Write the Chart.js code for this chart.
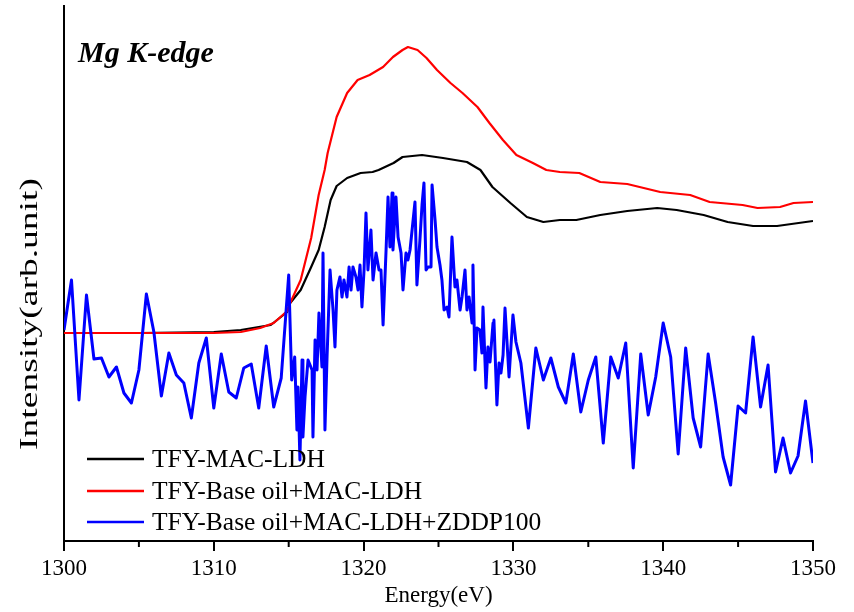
<!DOCTYPE html>
<html>
<head>
<meta charset="utf-8">
<script src="https://cdn.jsdelivr.net/npm/chart.js@4.4.1/dist/chart.umd.min.js"></script>
<style>
  html, body { margin: 0; padding: 0; background: #fff; }
  #wrap { width: 854px; height: 612px; }
</style>
</head>
<body>
<div id="wrap"><canvas id="xasChart" width="854" height="612"></canvas></div>
<script>
// Mg K-edge TFY spectra (intensity in arbitrary units)
var panelLabel = 'Mg K-edge';
var xTitle = 'Energy(eV)';
var yTitle = 'Intensity(arb.unit)';
var xTicks = [1300, 1310, 1320, 1330, 1340, 1350];
var xMinorTicks = [1305, 1315, 1325, 1335, 1345];
var seriesNames = ['TFY-MAC-LDH', 'TFY-Base oil+MAC-LDH', 'TFY-Base oil+MAC-LDH+ZDDP100'];
var seriesColors = ['#000000', '#ff0000', '#0000ff'];

// TFY-MAC-LDH
var blackE = [1300, 1305, 1310, 1311.8, 1313.8, 1314.9, 1315.1, 1315.8, 1316.5, 1317.0,
              1317.4, 1317.8, 1318.2, 1318.9, 1319.8, 1320.6, 1321.0, 1322.0, 1322.6, 1323.9,
              1325.3, 1326.9, 1327.8, 1328.6, 1329.8, 1330.9, 1332.0, 1333.1, 1334.2, 1335.8,
              1337.6, 1339.6, 1340.9, 1342.7, 1344.3, 1346.0, 1347.6, 1350];
var blackI = [2.08, 2.08, 2.09, 2.11, 2.16, 2.29, 2.38, 2.51, 2.74, 2.91,
              3.14, 3.41, 3.55, 3.63, 3.68, 3.69, 3.71, 3.78, 3.84, 3.86,
              3.83, 3.79, 3.71, 3.54, 3.38, 3.24, 3.19, 3.21, 3.21, 3.26,
              3.30, 3.33, 3.31, 3.26, 3.19, 3.15, 3.15, 3.20];

// TFY-Base oil+MAC-LDH
var redE = [1300, 1305, 1310, 1311.8, 1313.1, 1314.0, 1314.9, 1315.1, 1315.8, 1316.5,
            1317.0, 1317.4, 1317.6, 1318.2, 1318.9, 1319.6, 1320.4, 1321.3, 1321.96, 1322.6,
            1322.96, 1323.6, 1324.2, 1324.9, 1325.8, 1326.6, 1327.6, 1328.4, 1329.3, 1330.2,
            1331.3, 1332.2, 1333.1, 1334.4, 1335.8, 1337.6, 1339.8, 1341.8, 1343.1, 1345.3,
            1346.3, 1347.8, 1348.7, 1350];
var redI = [2.08, 2.08, 2.08, 2.09, 2.13, 2.18, 2.30, 2.38, 2.61, 3.03,
            3.46, 3.71, 3.88, 4.24, 4.48, 4.61, 4.66, 4.74, 4.84, 4.91,
            4.94, 4.91, 4.83, 4.71, 4.58, 4.48, 4.34, 4.18, 4.01, 3.86,
            3.78, 3.71, 3.69, 3.68, 3.59, 3.57, 3.49, 3.46, 3.39, 3.36,
            3.33, 3.34, 3.38, 3.39];

// TFY-Base oil+MAC-LDH+ZDDP100, pre-edge part
var bluePreE = [1300, 1300.5, 1301, 1301.5, 1302, 1302.5, 1303, 1303.5, 1304, 1304.5,
                1305, 1305.5, 1306, 1306.5, 1307, 1307.5, 1308, 1308.5, 1309, 1309.5,
                1310, 1310.5, 1311, 1311.5, 1312, 1312.5, 1313, 1313.5, 1314, 1314.5,
                1315];
var bluePreI = [2.11, 2.61, 1.41, 2.46, 1.82, 1.83, 1.64, 1.74, 1.48, 1.38,
                1.71, 2.47, 2.09, 1.45, 1.88, 1.66, 1.58, 1.23, 1.78, 2.03,
                1.33, 1.87, 1.49, 1.43, 1.73, 1.77, 1.33, 1.95, 1.34, 1.63,
                2.66];
// edge region (denser sampling)
var blueEdgeE = [1315.2, 1315.4, 1315.55, 1315.62, 1315.75, 1315.89, 1315.95, 1316.09, 1316.29, 1316.56,
                 1316.62, 1316.76, 1316.89, 1317.02, 1317.22, 1317.29, 1317.42, 1317.56, 1317.76, 1317.96,
                 1318.09, 1318.22, 1318.42, 1318.56, 1318.69, 1318.89, 1319.03, 1319.16, 1319.29, 1319.49,
                 1319.63, 1319.76, 1319.89, 1320.03, 1320.16, 1320.29, 1320.49, 1320.63, 1320.83, 1321.03,
                 1321.16, 1321.3, 1321.5, 1321.63, 1321.76, 1321.9, 1321.96, 1322.16, 1322.3, 1322.5,
                 1322.63, 1322.83, 1322.96, 1323.1, 1323.43, 1323.56, 1323.76, 1323.9, 1324.03, 1324.17,
                 1324.3, 1324.5, 1324.57, 1324.77, 1324.9, 1325.1, 1325.23, 1325.37, 1325.57, 1325.7,
                 1325.9, 1326.1, 1326.23, 1326.44, 1326.57, 1326.77, 1326.9, 1327.04, 1327.24, 1327.3,
                 1327.44, 1327.57, 1327.77, 1327.9, 1327.97, 1328.17, 1328.3, 1328.44, 1328.64, 1328.7,
                 1328.9, 1329.04, 1329.17, 1329.31, 1329.44, 1329.71, 1329.97, 1330.17];
var blueEdgeI = [1.61, 1.84, 1.11, 1.54, 0.81, 1.81, 1.04, 1.44, 1.81, 1.71,
                 1.04, 2.01, 1.71, 2.28, 1.74, 2.88, 1.11, 1.84, 2.71, 2.31,
                 1.94, 2.51, 2.64, 2.44, 2.61, 2.44, 2.74, 2.51, 2.74, 2.64,
                 2.51, 2.76, 2.34, 2.71, 3.28, 2.71, 3.11, 2.61, 2.88, 2.71,
                 2.71, 2.16, 2.91, 3.44, 2.94, 3.48, 2.91, 3.44, 3.04, 2.88,
                 2.51, 2.88, 2.81, 2.91, 3.39, 2.56, 3.01, 3.36, 3.58, 2.71,
                 2.74, 2.74, 3.56, 3.21, 2.94, 2.76, 2.61, 2.31, 2.34, 2.24,
                 3.04, 2.54, 2.61, 2.31, 2.44, 2.71, 2.31, 2.44, 2.18, 2.76,
                 1.71, 2.13, 2.11, 1.88, 2.34, 1.53, 1.94, 1.79, 2.18, 2.21,
                 1.36, 1.78, 1.68, 1.86, 2.33, 1.64, 2.26, 1.99];
// post-edge part
var bluePostE = [1330.5, 1331, 1331.5, 1332, 1332.5, 1333, 1333.5, 1334, 1334.5, 1335,
                 1335.5, 1336, 1336.5, 1337, 1337.5, 1338, 1338.5, 1339, 1339.5, 1340,
                 1340.5, 1341, 1341.5, 1342, 1342.5, 1343, 1343.5, 1344, 1344.5, 1345,
                 1345.5, 1346, 1346.5, 1347, 1347.5, 1348, 1348.5, 1349, 1349.5, 1350];
var bluePostI = [1.78, 1.13, 1.93, 1.61, 1.83, 1.54, 1.38, 1.87, 1.29, 1.61,
                 1.84, 0.98, 1.84, 1.63, 1.98, 0.73, 1.87, 1.26, 1.64, 2.18,
                 1.84, 0.87, 1.93, 1.23, 0.94, 1.87, 1.38, 0.84, 0.56, 1.35,
                 1.28, 2.04, 1.34, 1.76, 0.69, 1.03, 0.68, 0.85, 1.40, 0.78];

function toPoints(es, is) {
  var pts = [];
  for (var i = 0; i < es.length; i++) pts.push({ x: es[i], y: is[i] });
  return pts;
}

var blueE = bluePreE.concat(blueEdgeE, bluePostE);
var blueI = bluePreI.concat(blueEdgeI, bluePostI);

var serifFont = '"Liberation Serif", "Times New Roman", serif';

// draws minor ticks, panel label, y title and the in-plot legend
var overlayPlugin = {
  id: 'overlay',
  afterDraw: function(chart) {
    var ctx = chart.ctx;
    var xs = chart.scales.x;
    var area = chart.chartArea;
    ctx.save();
    ctx.strokeStyle = '#000';
    ctx.lineWidth = 2;
    xMinorTicks.forEach(function(v) {
      var px = xs.getPixelForValue(v);
      ctx.beginPath();
      ctx.moveTo(px, area.bottom);
      ctx.lineTo(px, area.bottom + 6);
      ctx.stroke();
    });

    ctx.fillStyle = '#000';
    ctx.textBaseline = 'alphabetic';
    ctx.font = 'italic bold 30px ' + serifFont;
    ctx.fillText(panelLabel, 78, 62);

    // y axis title
    ctx.save();
    ctx.translate(37, 314);
    ctx.rotate(-Math.PI / 2);
    ctx.scale(1.5, 1);
    ctx.font = '25px ' + serifFont;
    ctx.textAlign = 'center';
    ctx.fillText(yTitle, 0, 0);
    ctx.restore();

    // legend
    var rowsY = [459, 491, 522];
    ctx.font = '25.5px ' + serifFont;
    ctx.textAlign = 'left';
    for (var i = 0; i < seriesNames.length; i++) {
      ctx.strokeStyle = seriesColors[i];
      ctx.lineWidth = 2.5;
      ctx.beginPath();
      ctx.moveTo(87, rowsY[i]);
      ctx.lineTo(144, rowsY[i]);
      ctx.stroke();
      ctx.fillStyle = '#000';
      ctx.fillText(seriesNames[i], 152, rowsY[i] + 8);
    }
    ctx.restore();
  }
};

var ctx = document.getElementById('xasChart');
var xasChart = new Chart(ctx, {
  type: 'line',
  data: {
    datasets: [{
      label: seriesNames[0],
      data: toPoints(blackE, blackI),
      borderColor: seriesColors[0],
      borderWidth: 2.2,
      order: 2
    }, {
      label: seriesNames[1],
      data: toPoints(redE, redI),
      borderColor: seriesColors[1],
      borderWidth: 2.2,
      order: 1
    }, {
      label: seriesNames[2],
      data: toPoints(blueE, blueI),
      borderColor: seriesColors[2],
      borderWidth: 3,
      order: 0
    }]
  },
  options: {
    responsive: false,
    animation: false,
    events: [],
    elements: {
      point: { radius: 0 },
      line: { tension: 0, fill: false, borderJoinStyle: 'round' }
    },
    layout: { padding: { top: 6, right: 41, left: 0, bottom: 0 } },
    plugins: {
      legend: { display: false },
      tooltip: { enabled: false }
    },
    scales: {
      x: {
        type: 'linear',
        min: 1300,
        max: 1350,
        afterFit: function(scale) { scale.height = 71; },
        afterBuildTicks: function(scale) {
          scale.ticks = xTicks.map(function(v) { return { value: v }; });
        },
        grid: {
          display: true,
          drawOnChartArea: false,
          drawTicks: true,
          tickLength: 10,
          color: '#000',
          lineWidth: 2
        },
        border: { display: true, color: '#000', width: 2 },
        ticks: {
          color: '#000',
          padding: 4,
          maxRotation: 0,
          font: { family: serifFont, size: 23 },
          callback: function(value) { return String(value); }
        },
        title: {
          display: true,
          text: xTitle,
          color: '#000',
          padding: { top: 0, bottom: 2 },
          font: { family: serifFont, size: 23 }
        }
      },
      y: {
        type: 'linear',
        min: 0,
        max: 5.35,
        afterFit: function(scale) { scale.width = 64; },
        grid: { display: false },
        border: { display: true, color: '#000', width: 2 },
        ticks: { display: false }
      }
    }
  },
  plugins: [overlayPlugin]
});
</script>
</body>
</html>
